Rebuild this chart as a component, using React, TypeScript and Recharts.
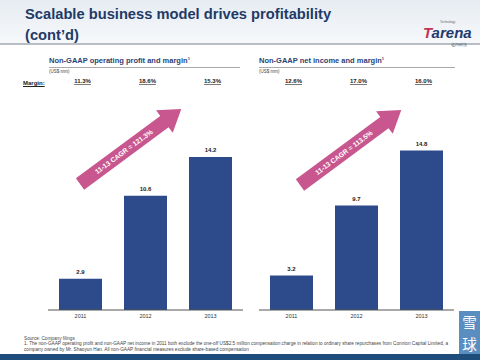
import { BarChart, Bar, XAxis, YAxis, LabelList } from "recharts";
import type { CSSProperties } from "react";

const years = ["2011", "2012", "2013"];
const opProfit = [2.9, 10.6, 14.2];
const opMargin = ["11.3%", "18.6%", "15.3%"];
const netIncome = [3.2, 9.7, 14.8];
const netMargin = ["12.6%", "17.0%", "16.0%"];
const cagrLabels = ["11-13 CAGR = 121.3%", "11-13 CAGR = 113.5%"];

const NAVY = "#2d4a8a";
const PINK = "#c9578f";

function MarginTick({ x, y, payload }: any) {
  return (
    <text
      x={x + 2}
      y={y - 1}
      textAnchor="middle"
      fontSize={6}
      fontWeight="bold"
      fill="#222"
      textDecoration="underline"
    >
      {payload.value}
    </text>
  );
}

interface ChartProps {
  values: number[];
  margins: string[];
  left: number;
  width: number;
  padLeft: number;
  padRight: number;
}

function ProfitChart({ values, margins, left, width, padLeft, padRight }: ChartProps) {
  const data = years.map((y, i) => ({ year: y, value: values[i], margin: margins[i] }));
  return (
    <div style={{ position: "absolute", left, top: 60 }}>
      <BarChart
        width={width}
        height={270}
        data={data}
        margin={{ top: 0, right: padRight, bottom: 0, left: padLeft }}
      >
        <XAxis
          xAxisId="m"
          orientation="top"
          dataKey="margin"
          height={26}
          axisLine={false}
          tickLine={false}
          tickSize={0}
          tick={<MarginTick />}
        />
        <XAxis
          dataKey="year"
          height={20}
          axisLine={{ stroke: "#555" }}
          tickLine={false}
          tickSize={0}
          tickMargin={4}
          tick={{ fontSize: 5.5, fill: "#333" }}
        />
        <YAxis hide domain={[0, 20.8]} />
        <Bar dataKey="value" fill={NAVY} barSize={43} isAnimationActive={false}>
          <LabelList
            dataKey="value"
            position="top"
            offset={5}
            formatter={(v: any) => Number(v).toFixed(1)}
            style={{ fontSize: 6, fontWeight: "bold", fill: "#222" }}
          />
        </Bar>
      </BarChart>
    </div>
  );
}

function CagrArrow({ x, y, text }: { x: number; y: number; text: string }) {
  const len = 126;
  const hw = 7;
  const headLen = 21;
  const headHw = 14;
  const pts = [
    [0, -hw],
    [len - headLen, -hw],
    [len - headLen, -headHw],
    [len, 0],
    [len - headLen, headHw],
    [len - headLen, hw],
    [0, hw],
  ]
    .map((p) => p.join(","))
    .join(" ");
  return (
    <svg
      width={480}
      height={360}
      style={{ position: "absolute", left: 0, top: 0, pointerEvents: "none" }}
    >
      <g transform={`translate(${x},${y}) rotate(-36.5)`}>
        <polygon points={pts} fill={PINK} />
        <text
          x={(len - headLen) / 2 + 2}
          y={2.5}
          textAnchor="middle"
          fontSize={6.8}
          fontWeight="bold"
          fill="#fff"
        >
          {text}
        </text>
      </g>
    </svg>
  );
}

export default function App() {
  return (
    <div style={page}>
      <div style={header}>
        <div style={title}>
          Scalable business model drives profitability
          <br />
          (cont’d)
        </div>
        <div style={{ position: "absolute", left: 440, top: 20, fontSize: 3, color: "#666" }}>
          Technology
        </div>
        <div style={logo}>
          <span style={{ color: "#c4325a" }}>T</span>arena
        </div>
        <div style={{ position: "absolute", left: 451, top: 42, fontSize: 4, color: "#555" }}>
          达内科技
        </div>
      </div>

      <div style={{ ...subtitle, left: 49 }}>
        Non-GAAP operating profit and margin<sup style={sup}>1</sup>
      </div>
      <div style={{ ...rule, left: 49, width: 191 }} />
      <div style={{ ...unit, left: 49 }}>(US$ mm)</div>
      <div style={marginLabel}>Margin:</div>

      <div style={{ ...subtitle, left: 259 }}>
        Non-GAAP net income and margin<sup style={sup}>1</sup>
      </div>
      <div style={{ ...rule, left: 259, width: 196 }} />
      <div style={{ ...unit, left: 259 }}>(US$ mm)</div>

      <ProfitChart
        values={opProfit}
        margins={opMargin}
        left={0}
        width={250}
        padLeft={48}
        padRight={7}
      />
      <ProfitChart
        values={netIncome}
        margins={netMargin}
        left={250}
        width={230}
        padLeft={9}
        padRight={26}
      />

      <CagrArrow x={80} y={184} text={cagrLabels[0]} />
      <CagrArrow x={300} y={185} text={cagrLabels[1]} />

      <div style={footnote}>
        Source: Company filings
        <br />
        1. The non-GAAP operating profit and non-GAAP net income in 2011 both exclude the one-off
        US$2.5 million compensation charge in relation to ordinary share repurchases from Connion
        Capital Limited, a
        <br />
        company owned by Mr. Shaoyun Han. All non-GAAP financial measures exclude share-based
        compensation
      </div>

      <div style={xueqiu}>
        <div style={xueqiuChar}>雪</div>
        <div style={xueqiuChar}>球</div>
      </div>
      <div style={bottomBar} />
    </div>
  );
}

const page: CSSProperties = {
  position: "absolute",
  left: 0,
  top: 0,
  width: 480,
  height: 360,
  overflow: "hidden",
  background: "#fff",
  fontFamily: "'Liberation Sans', Arial, sans-serif",
};

const header: CSSProperties = {
  position: "absolute",
  left: 0,
  top: 0,
  width: 480,
  height: 43,
  background: "linear-gradient(to bottom, #e6ecf2, #f6f8fa)",
  borderBottom: "2px solid #b9bec6",
};

const title: CSSProperties = {
  position: "absolute",
  left: 25,
  top: 4,
  fontSize: 14.7,
  lineHeight: "21px",
  fontWeight: "bold",
  color: "#1f3a66",
  whiteSpace: "nowrap",
};

const logo: CSSProperties = {
  position: "absolute",
  left: 423,
  top: 24,
  fontSize: 15,
  lineHeight: "17px",
  fontWeight: "bold",
  fontStyle: "italic",
  color: "#1f3b72",
};

const subtitle: CSSProperties = {
  position: "absolute",
  top: 56,
  fontSize: 7.5,
  lineHeight: "10px",
  fontWeight: "bold",
  color: "#2b3f73",
  whiteSpace: "nowrap",
};

const sup: CSSProperties = { fontSize: 4, verticalAlign: "super", lineHeight: 0 };

const rule: CSSProperties = {
  position: "absolute",
  top: 67,
  height: 0,
  borderTop: "1px solid #aaa",
};

const unit: CSSProperties = {
  position: "absolute",
  top: 69,
  fontSize: 4.5,
  lineHeight: "6px",
  color: "#444",
};

const marginLabel: CSSProperties = {
  position: "absolute",
  left: 23,
  top: 79,
  fontSize: 6,
  lineHeight: "8px",
  fontWeight: "bold",
  color: "#222",
  textDecoration: "underline",
};

const footnote: CSSProperties = {
  position: "absolute",
  left: 24,
  top: 336,
  width: 432,
  fontSize: 4.7,
  lineHeight: "5.3px",
  color: "#444",
  whiteSpace: "nowrap",
};

const xueqiu: CSSProperties = {
  position: "absolute",
  left: 459,
  top: 311,
  width: 21,
  height: 43,
  background: "#5b8ec0",
};

const xueqiuChar: CSSProperties = {
  height: 21.5,
  color: "#fff",
  fontSize: 14.5,
  lineHeight: "21.5px",
  textAlign: "center",
  overflow: "hidden",
  fontFamily: "'Noto Sans CJK SC', sans-serif",
};

const bottomBar: CSSProperties = {
  position: "absolute",
  left: 0,
  top: 354,
  width: 480,
  height: 6,
  background: "#1e4d7b",
};
